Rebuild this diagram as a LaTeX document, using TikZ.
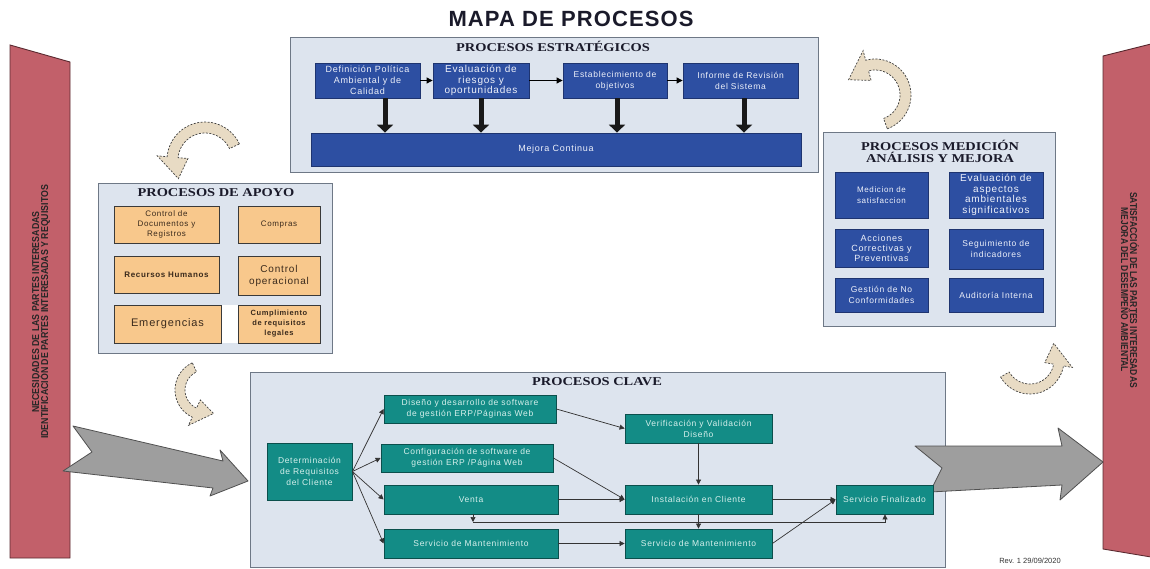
\documentclass[tikz,border=0pt]{standalone}
\usepackage{fontspec}
\setmainfont{Liberation Serif}
\newfontfamily\bxf[LetterSpace=8]{Liberation Sans}
\newfontfamily\hdf{Liberation Sans}
\newfontfamily\ttlf[LetterSpace=5]{Liberation Sans}
\usetikzlibrary{arrows.meta}
\definecolor{panelF}{HTML}{DDE4EE}
\definecolor{panelB}{HTML}{6E7886}
\definecolor{dblue}{HTML}{2D4FA2}
\definecolor{dblueB}{HTML}{1E3470}
\definecolor{btext}{HTML}{EEF1FA}
\definecolor{orngF}{HTML}{F8C88C}
\definecolor{orngB}{HTML}{3A3A3A}
\definecolor{otext}{HTML}{3A2A1C}
\definecolor{tealF}{HTML}{138C86}
\definecolor{tealB}{HTML}{0B4F4C}
\definecolor{ttext}{HTML}{D6F0EC}
\definecolor{bandF}{HTML}{C2606A}
\definecolor{bandB}{HTML}{5A2A30}
\definecolor{greyF}{HTML}{9E9E9E}
\definecolor{greyB}{HTML}{505050}
\definecolor{beigeF}{HTML}{E8DBC4}
\definecolor{titc}{HTML}{1A1A2A}
\newcommand{\carrow}[7]{%
  \draw[curvarr] plot[domain=#5:#6, samples=30] ({#1+#3*cos(\x)},{#2+#3*sin(\x)})
    -- ({#1+(#3+0.9*#4)*cos(#6)},{#2+(#3+0.9*#4)*sin(#6)})
    -- ({#1+(#3-#4/2)*cos(#6+#7)},{#2+(#3-#4/2)*sin(#6+#7)})
    -- ({#1+(#3-1.9*#4)*cos(#6)},{#2+(#3-1.9*#4)*sin(#6)})
    -- plot[domain=#6:#5, samples=30] ({#1+(#3-#4)*cos(\x)},{#2+(#3-#4)*sin(\x)})
    -- cycle;}
\begin{document}
\begin{tikzpicture}[x=1pt,y=-1pt,
  panel/.style={draw=panelB, fill=panelF, line width=0.9pt},
  box/.style={draw, line width=0.8pt, inner sep=0.5pt, align=center},
  fs/.style 2 args={font=\bxf\fontsize{#1}{#2}\selectfont},
  bluebox/.style={box, fill=dblue, draw=dblueB, text=btext},
  orbox/.style={box, fill=orngF, draw=orngB, text=otext},
  tealbox/.style={box, fill=tealF, draw=tealB, text=ttext},
  conn/.style={draw=black!80, line width=0.7pt, -{Triangle[width=5pt,length=5pt]}},
  sconn/.style={draw=black, line width=0.8pt, -{Triangle[width=6pt,length=6pt]}},
  bigdown/.style={draw=black!90, line width=5pt, -{Triangle[width=16pt,length=8pt]}},
  ptitle/.style={font=\bfseries\fontsize{12}{12}\selectfont, text=titc, align=center},
  band/.style={draw=bandB, fill=bandF, line width=0.9pt},
  bandtext/.style={font=\hdf\bfseries\fontsize{10}{9}\selectfont, text=black!85, align=center},
  bigarrow/.style={draw=greyB, fill=greyF, line width=0.8pt, line join=round},
  curvarr/.style={draw=black!75, fill=beigeF, line width=0.7pt, dash pattern=on 2pt off 1.5pt}
]
\useasboundingbox (0,0) rectangle (1150,569);

% side bands
\draw[band] (10,45) -- (70,62) -- (70,558) -- (10,558) -- cycle;
\draw[band] (1103,56) -- (1151,44) -- (1151,557) -- (1103,549) -- cycle;
\node[bandtext, rotate=90] (lt) at (41,312) {\scalebox{0.88}[1]{NECESIDADES DE LAS PARTES INTERESADAS}\\\scalebox{0.88}[1]{IDENTIFICACIÓN DE PARTES INTERESADAS Y REQUISITOS}};
\node[bandtext, rotate=-90] (rt) at (1130,290) {\scalebox{0.85}[1]{SATISFACCIÓN DE LAS PARTES INTERESADAS}\\\scalebox{0.85}[1]{MEJORA DEL DESEMPEÑO AMBIENTAL}};

% title
\node[font=\ttlf\bfseries\fontsize{22}{22}\selectfont, text=titc] (title) at (571,19) {MAPA DE PROCESOS};

% panels
\draw[panel] (290,37) rectangle (818,172);
\draw[panel] (98,183) rectangle (332,353);
\draw[panel] (823,132) rectangle (1055,326);
\draw[panel] (250,372) rectangle (945,567);

% big grey arrows
\draw[bigarrow] (73,426) -- (223,461) -- (220,450) -- (248,481) -- (210,496) -- (213,488) -- (63,471) -- (92,452) -- cycle;
\draw[bigarrow] (915,446) -- (1062,446) -- (1058,428) -- (1103,462) -- (1060,500) -- (1062,485) -- (930,492) -- (942,468) -- cycle;

% curved arrows
\carrow{205}{160}{38}{11}{-25}{-175}{-40}
\carrow{205}{390}{30}{10}{-115}{-245}{-45}
\carrow{1030}{360}{34}{10}{150}{10}{-45}
\carrow{875}{95}{36}{11}{70}{-105}{-45}

% strategic
\node[ptitle] (tst) at (553,46) {\scalebox{1.2}[1]{PROCESOS ESTRATÉGICOS}};
\node[bluebox, fs={9}{11}, minimum width=105, minimum height=35] (s1) at (367.5,80.5) {Definición Política\\Ambiental y  de\\Calidad};
\node[bluebox, fs={10}{10.5}, minimum width=96, minimum height=35] (s2) at (481,80.5) {Evaluación de\\riesgos y\\oportunidades};
\node[bluebox, fs={8.5}{11}, minimum width=104, minimum height=35] (s3) at (615,80.5) {Establecimiento de\\objetivos};
\node[bluebox, fs={8.5}{11}, minimum width=115, minimum height=35] (s4) at (740.5,80.5) {Informe de Revisión\\del Sistema};
\node[bluebox, fs={9}{11}, minimum width=490, minimum height=33] (mj) at (556,149.5) {Mejora Continua};
\draw[sconn] (s1) -- (s2);
\draw[sconn] (s2) -- (s3);
\draw[sconn] (s3) -- (s4);
\coordinate (d1) at (385,0);
\coordinate (d2) at (481,0);
\coordinate (d3) at (617,0);
\coordinate (d4) at (744,0);
\draw[bigdown] (s1.south -| d1) -- (mj.north -| d1);
\draw[bigdown] (s2.south -| d2) -- (mj.north -| d2);
\draw[bigdown] (s3.south -| d3) -- (mj.north -| d3);
\draw[bigdown] (s4.south -| d4) -- (mj.north -| d4);

% apoyo
\node[ptitle] (tap) at (216,193) {\scalebox{1.2}[1]{PROCESOS DE APOYO}};
\fill[white] (221,305) rectangle (238,343);
\node[orbox, fs={8}{10}, minimum width=105, minimum height=37] (a1) at (166.5,224.5) {Control de\\Documentos y\\Registros};
\node[orbox, fs={8}{10}, minimum width=82, minimum height=37] (a2) at (279,224.5) {Compras};
\node[orbox, minimum width=105, minimum height=37, font=\bxf\bfseries\fontsize{8}{10}\selectfont] (a3) at (166.5,274.5) {Recursos Humanos};
\node[orbox, fs={10}{12}, minimum width=82, minimum height=39] (a4) at (279,275.5) {Control\\operacional};
\node[orbox, fs={11}{12}, minimum width=107, minimum height=38] (a5) at (167.5,324) {Emergencias};
\node[orbox, minimum width=82, minimum height=38, font=\bxf\bfseries\fontsize{7.5}{10}\selectfont] (a6) at (279,324) {Cumplimiento\\de requisitos\\legales};

% medicion
\node[ptitle] (tme) at (940,151) {\scalebox{1.2}[1]{PROCESOS MEDICIÓN}\\\scalebox{1.2}[1]{ANÁLISIS Y MEJORA}};
\node[bluebox, fs={8}{11}, minimum width=93, minimum height=46] (m1) at (881.5,195) {Medicion de\\satisfaccion};
\node[bluebox, fs={10}{10.5}, minimum width=94, minimum height=46] (m2) at (996,195) {Evaluación de\\aspectos\\ambientales\\significativos};
\node[bluebox, fs={9}{10}, minimum width=93, minimum height=38] (m3) at (881.5,248) {Acciones\\Correctivas y\\Preventivas};
\node[bluebox, fs={8.5}{11}, minimum width=94, minimum height=40] (m4) at (996,249) {Seguimiento de\\indicadores};
\node[bluebox, fs={8.5}{11}, minimum width=93, minimum height=34] (m5) at (881.5,295) {Gestión de No\\Conformidades};
\node[bluebox, fs={8.5}{11}, minimum width=94, minimum height=34] (m6) at (996,295) {Auditoría Interna};

% clave
\node[ptitle] (tcl) at (597,382) {\scalebox{1.2}[1]{PROCESOS CLAVE}};
\node[tealbox, fs={8.5}{11}, minimum width=85, minimum height=57] (k1) at (309.5,471.5) {Determinación\\de Requisitos\\del Cliente};
\node[tealbox, fs={8.5}{11}, minimum width=172, minimum height=28] (k2) at (470,409) {Diseño y desarrollo de software\\de gestión ERP/Páginas Web};
\node[tealbox, fs={8.5}{11}, minimum width=172, minimum height=28] (k3) at (467,458) {Configuración de software de\\gestión ERP /Página Web};
\node[tealbox, fs={8.5}{11}, minimum width=174, minimum height=29] (k4) at (471,499.5) {Venta};
\node[tealbox, fs={8.5}{11}, minimum width=174, minimum height=29] (k5) at (471,543.5) {Servicio de Mantenimiento};
\node[tealbox, fs={8.5}{11}, minimum width=147, minimum height=29] (k6) at (698.5,428.5) {Verificación y Validación\\Diseño};
\node[tealbox, fs={8.5}{11}, minimum width=147, minimum height=29] (k7) at (698.5,499.5) {Instalación en Cliente};
\node[tealbox, fs={8.5}{11}, minimum width=147, minimum height=29] (k8) at (698.5,543.5) {Servicio de Mantenimiento};
\node[tealbox, fs={8.5}{11}, minimum width=97, minimum height=29] (k9) at (884.5,499.5) {Servicio Finalizado};

\draw[conn] (k1.east) -- (k2.west);
\draw[conn] (k1.east) -- (k3.west);
\draw[conn] (k1.east) -- (k4.west);
\draw[conn] (k1.east) -- (k5.west);
\draw[conn] (k2.east) -- (k6.west);
\draw[conn] (k3.east) -- (k7.west);
\draw[conn] (k4.east) -- (k7.west);
\draw[conn] (k6.south) -- (k7.north);
\draw[conn] (k7.south) -- (k8.north);
\draw[conn] (k5.east) -- (k8.west);
\draw[conn] (k7.east) -- (k9.west);
\draw[conn] (k8.east) -- (k9.west);
\coordinate (vl) at (473,522);
\coordinate (vr) at (885,522);
\draw[conn] (k4.south -| vl) -- (vl);
\draw[conn] (vl) -- (vr) -- (k9.south -| vr);

\node[font=\hdf\fontsize{7.5}{9}\selectfont, text=black!80] (rev) at (1030,561) {Rev. 1 29/09/2020};
\end{tikzpicture}
\end{document}
